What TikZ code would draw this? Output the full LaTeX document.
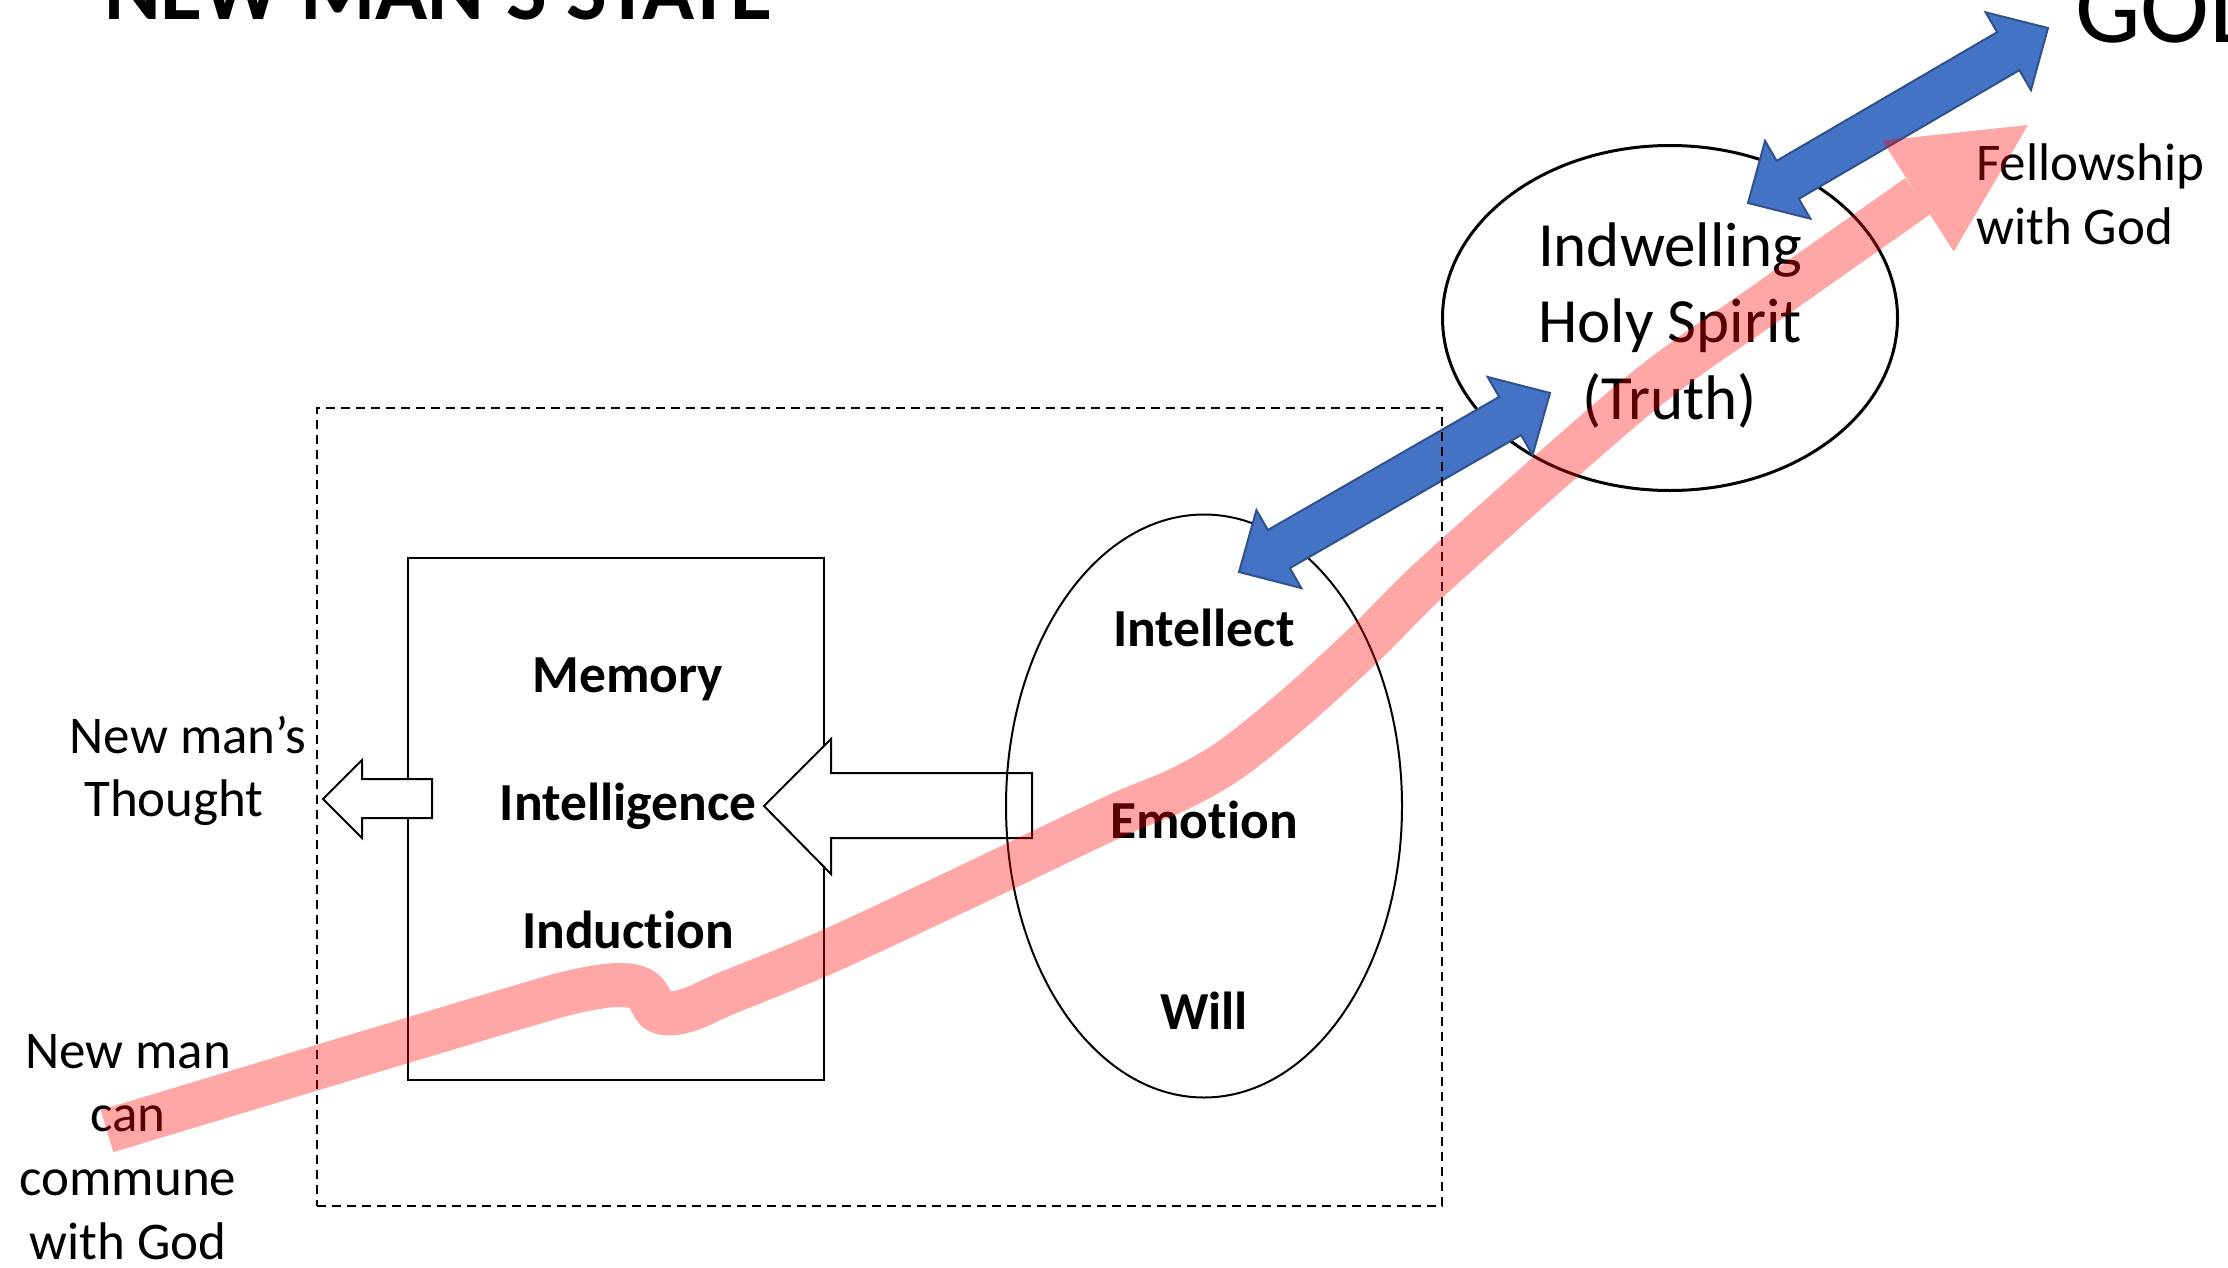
\documentclass[tikz,border=0pt]{standalone}
\usepackage{fontspec}
\setmainfont{Carlito}[Ligatures=NoCommon]
\usetikzlibrary{calc,shapes.geometric}
\definecolor{sblue}{HTML}{4472C4}
\definecolor{sblueline}{HTML}{2F528F}
\definecolor{pathred}{RGB}{255,0,0}
\newcommand{\blockdarrow}[2]{%
  \filldraw[bluearrow] (#1)
   -- ($(#1)!46pt!(#2)!45pt!90:(#2)$)
   -- ($(#1)!46pt!(#2)!22pt!90:(#2)$)
   -- ($(#2)!46pt!(#1)!22pt!-90:(#1)$)
   -- ($(#2)!46pt!(#1)!45pt!-90:(#1)$)
   -- (#2)
   -- ($(#2)!46pt!(#1)!45pt!90:(#1)$)
   -- ($(#2)!46pt!(#1)!22pt!90:(#1)$)
   -- ($(#1)!46pt!(#2)!22pt!-90:(#2)$)
   -- ($(#1)!46pt!(#2)!45pt!-90:(#2)$)
   -- cycle;}
\begin{document}
\begin{tikzpicture}[x=1pt,y=-1pt,
  lbl/.style={inner sep=0pt, anchor=base, font=\fontsize{53}{64}\selectfont},
  blbl/.style={inner sep=0pt, anchor=base, font=\fontsize{53.5}{64}\selectfont\bfseries},
  spl/.style={inner sep=0pt, anchor=base, font=\fontsize{63}{77}\selectfont},
  whitearrow/.style={draw=black, fill=white, line width=2pt, line join=miter},
  bluearrow/.style={draw=sblueline, fill=sblue, line width=2pt, line join=miter},
  pinkline/.style={draw=pathred, line width=44pt, line join=round, line cap=butt},
]
\useasboundingbox (0,0) rectangle (2228,1267);

% headings
\node[inner sep=0pt, anchor=base west, font=\fontsize{86}{100}\selectfont\bfseries] (title) at (104,19) {NEW MAN’S STATE};
\node[inner sep=0pt, anchor=base west, font=\fontsize{104}{120}\selectfont] (god) at (2075,42) {GOD};

% mind box
\node[draw, line width=2pt, minimum width=416pt, minimum height=522pt, inner sep=0pt] (mind) at (616,819) {};

% white block arrows
\draw[whitearrow] (764,806) -- (831,739) -- (831,773) -- (1032,773) -- (1032,838) -- (831,838) -- (831,874) -- cycle;
\draw[whitearrow] (323,799) -- (362,760) -- (362,779) -- (432,779) -- (432,818) -- (362,818) -- (362,838) -- cycle;

% ellipses
\node[ellipse, draw, line width=2pt, minimum width=396pt, minimum height=583pt, inner sep=0pt] (soul) at (1204,806) {};
\node[ellipse, draw, line width=3pt, minimum width=455pt, minimum height=345pt, inner sep=0pt] (spirit) at (1670,318) {};

% texts
\node[blbl] (memory) at (628,692) {Memory};
\node[blbl] (intelligence) at (628,820) {Intelligence};
\node[blbl] (induction) at (628,948) {Induction};
\node[blbl] (intellect) at (1204,646) {Intellect};
\node[blbl] (emotion) at (1204,838) {Emotion};
\node[blbl] (will) at (1204,1029) {Will};
\node[spl] (sp1) at (1670,266) {Indwelling};
\node[spl] (sp2) at (1670,342) {Holy Spirit};
\node[spl] (sp3) at (1670,419) {(Truth)};
\node[lbl, anchor=base west] (fel1) at (1976,180) {Fellowship};
\node[lbl, anchor=base west] (fel2) at (1976,244) {with God};
\node[lbl] (th1) at (188,753) {New man’s};
\node[lbl] (th2) at (174,816) {Thought};
\node[lbl] (nm1) at (128,1068) {New man};
\node[lbl] (nm2) at (128,1131) {can};
\node[lbl] (nm3) at (128,1195) {commune};
\node[lbl] (nm4) at (128,1259) {with God};

% blue double arrows
\coordinate (gA) at (1748,203);
\coordinate (gB) at (2048,28);
\coordinate (sA) at (1239,572);
\coordinate (sB) at (1550,393);
\blockdarrow{gA}{gB}
\blockdarrow{sA}{sB}

% dashed frame
\node[draw, dash pattern=on 9pt off 6pt, line width=2.5pt, minimum width=1125pt, minimum height=798pt, inner sep=0pt] (frame) at (879.5,807) {};

% pink path
\coordinate (pstart) at (107,1131);
\coordinate (pbase) at (1918,196);
\coordinate (ptip) at (2028,125);
\begin{scope}[transparency group, opacity=0.35]
\draw[pinkline] (pstart) .. controls (300,1073) and (480,1018) .. (560,995)
  .. controls (600,985) and (632,980) .. (645,992)
  .. controls (655,1002) and (650,1016) .. (675,1013)
  .. controls (695,1010) and (705,1002) .. (727,993)
  -- plot[smooth, tension=0.5] coordinates {(727,993) (827,952) (960,890) (1113,817) (1177,790) (1230,760) (1297,706) (1368,641) (1440,570) (1640,394) (1769,301) (pbase)};
\fill[pathred] (ptip) -- ($(pbase)!66pt!90:(ptip)$) -- ($(pbase)!66pt!-90:(ptip)$) -- cycle;
\end{scope}
\end{tikzpicture}
\end{document}
